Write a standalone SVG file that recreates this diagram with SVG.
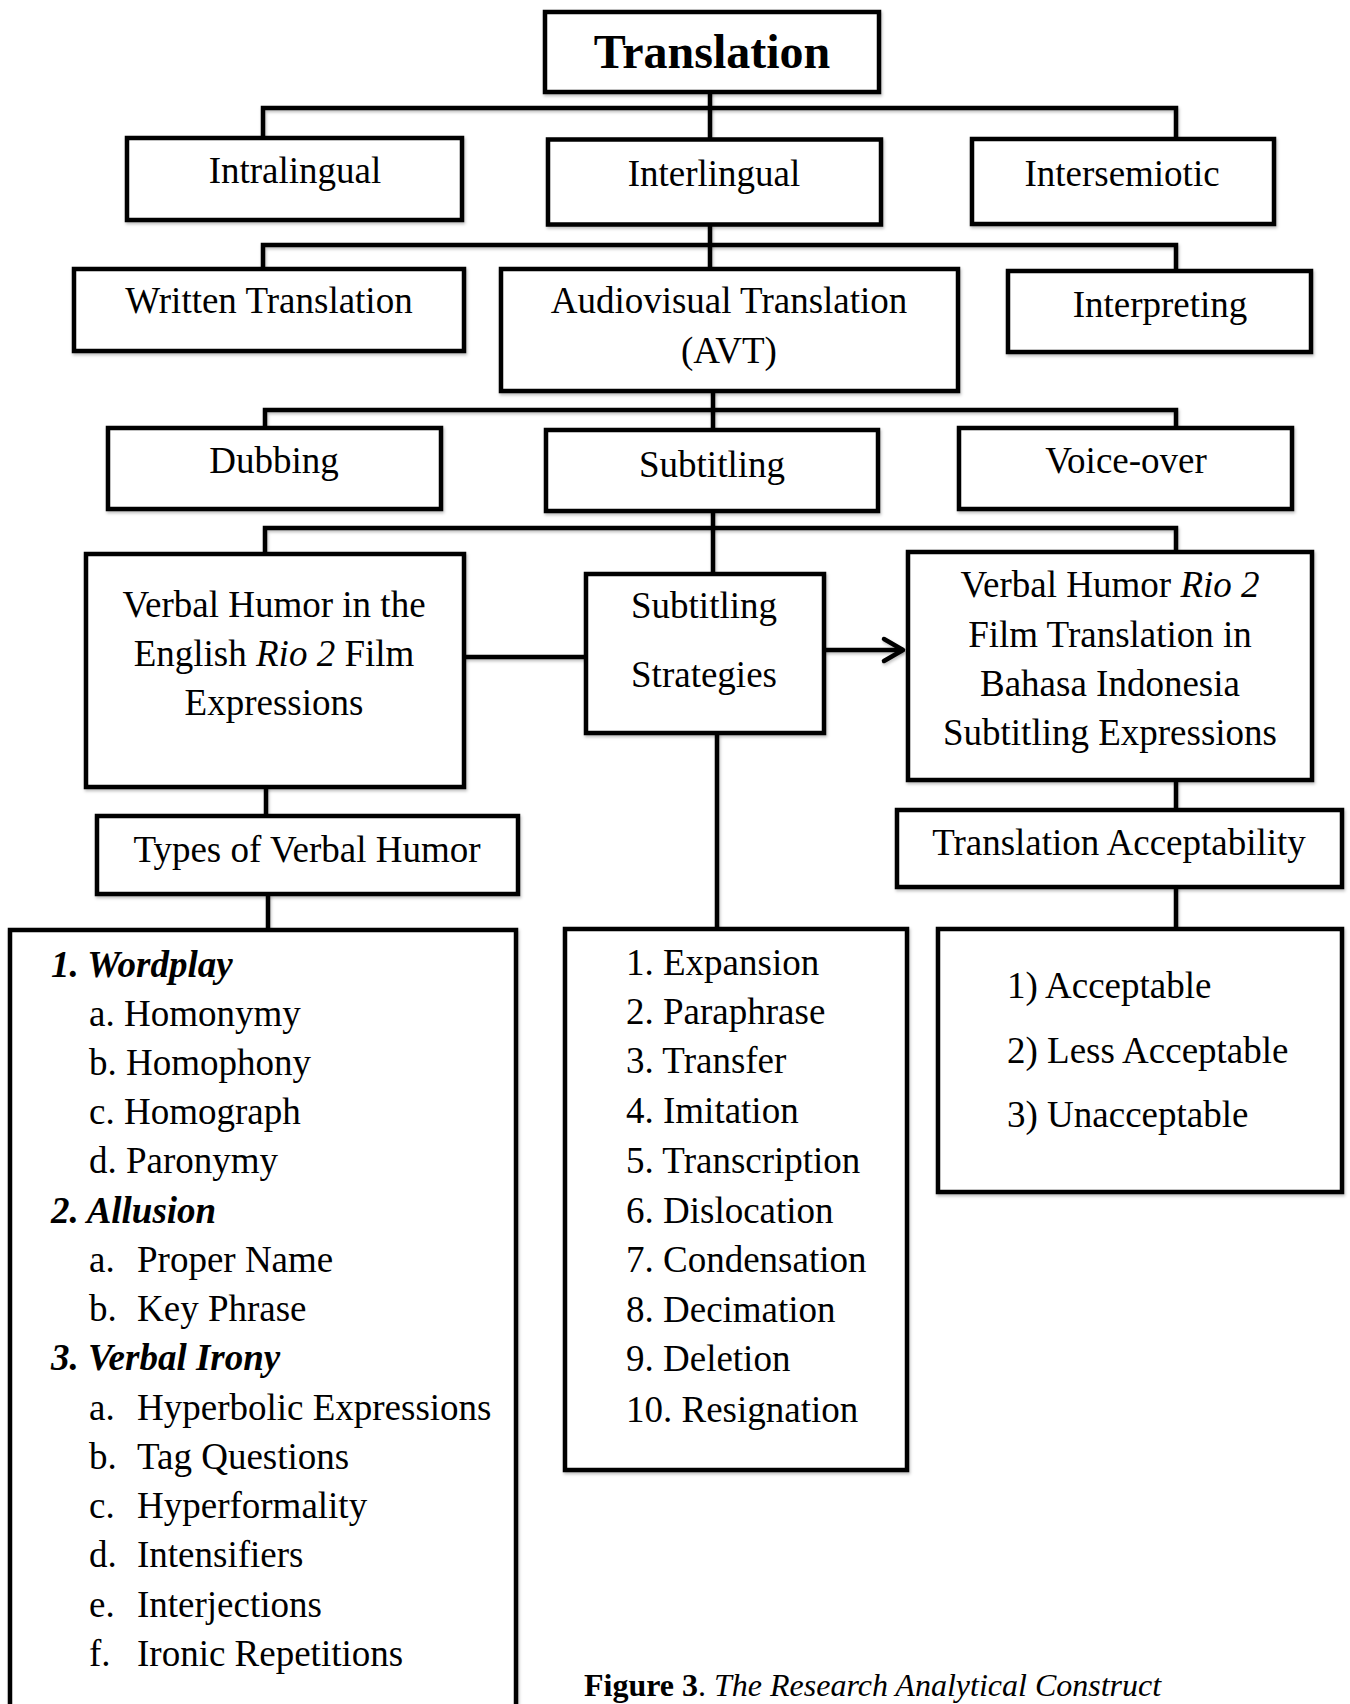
<svg xmlns="http://www.w3.org/2000/svg" width="1350" height="1704" viewBox="0 0 1350 1704">
<defs>
<filter id="sh" filterUnits="userSpaceOnUse" x="0" y="0" width="1350" height="1704">
<feDropShadow dx="1" dy="2" stdDeviation="1.5" flood-color="#000" flood-opacity="0.25"/>
</filter>
</defs>
<style>
.box{fill:#fff;stroke:#000;stroke-width:4.5;filter:url(#sh)}
.ln{fill:none;stroke:#000;stroke-width:4.5;filter:url(#sh)}
text{font-family:"Liberation Serif","Times New Roman",serif;font-size:37px;fill:#000}
.c{text-anchor:middle}
.it{font-style:italic}
.bi{font-style:italic;font-weight:bold}
.title{font-size:48px;font-weight:bold}
</style>
<rect width="1350" height="1704" fill="#fff"/>
<g id="connectors">
<path class="ln" d="M710,92 V139"/>
<path class="ln" d="M263,137 V108 H1176 V138"/>
<path class="ln" d="M710,224 V268"/>
<path class="ln" d="M263,268 V245 H1176 V270"/>
<path class="ln" d="M713,391 V429"/>
<path class="ln" d="M265,428 V410 H1176 V428"/>
<path class="ln" d="M713,511 V573"/>
<path class="ln" d="M265,553 V528 H1176 V551"/>
<path class="ln" d="M464,657 H586"/>
<path class="ln" d="M824,650 H903"/>
<path class="ln" d="M884,639 L903,650 L884,661" stroke-linecap="round" stroke-linejoin="round"/>
<path class="ln" d="M266,787 V816"/>
<path class="ln" d="M268,894 V930"/>
<path class="ln" d="M717,733 V929"/>
<path class="ln" d="M1176,780 V810"/>
<path class="ln" d="M1176,887 V929"/>
</g>
<g id="translation">
<rect class="box" x="545" y="12" width="334" height="80"/>
<text class="c title" x="712" y="68">Translation</text>
</g>
<g id="intralingual">
<rect class="box" x="127" y="138" width="335" height="82"/>
<text class="c" x="295" y="183">Intralingual</text>
</g>
<g id="interlingual">
<rect class="box" x="548" y="139.5" width="333" height="85"/>
<text class="c" x="714" y="186">Interlingual</text>
</g>
<g id="intersemiotic">
<rect class="box" x="972" y="139" width="302" height="85"/>
<text class="c" x="1122" y="186">Intersemiotic</text>
</g>
<g id="written">
<rect class="box" x="74" y="269" width="390" height="82"/>
<text class="c" x="269" y="313">Written Translation</text>
</g>
<g id="avt">
<rect class="box" x="501" y="269" width="457" height="122"/>
<text class="c" x="729" y="313">Audiovisual Translation</text>
<text class="c" x="729" y="363">(AVT)</text>
</g>
<g id="interpreting">
<rect class="box" x="1008" y="271" width="303" height="81"/>
<text class="c" x="1160" y="317">Interpreting</text>
</g>
<g id="dubbing">
<rect class="box" x="108" y="428" width="333" height="81"/>
<text class="c" x="274" y="473">Dubbing</text>
</g>
<g id="subtitling">
<rect class="box" x="546" y="430" width="332" height="81"/>
<text class="c" x="712" y="477">Subtitling</text>
</g>
<g id="voiceover">
<rect class="box" x="959" y="428" width="333" height="81"/>
<text class="c" x="1126" y="473">Voice-over</text>
</g>
<g id="verbal-humor-english">
<rect class="box" x="86" y="554" width="378" height="233"/>
<text class="c" x="274" y="617">Verbal Humor in the</text>
<text class="c" x="274" y="666">English <tspan class="it">Rio 2</tspan> Film</text>
<text class="c" x="274" y="715">Expressions</text>
</g>
<g id="subtitling-strategies">
<rect class="box" x="586" y="574" width="238" height="159"/>
<text class="c" x="704" y="618">Subtitling</text>
<text class="c" x="704" y="687">Strategies</text>
</g>
<g id="verbal-humor-indonesia">
<rect class="box" x="908" y="552" width="404" height="228"/>
<text class="c" x="1110" y="597">Verbal Humor <tspan class="it">Rio 2</tspan></text>
<text class="c" x="1110" y="647">Film Translation in</text>
<text class="c" x="1110" y="696">Bahasa Indonesia</text>
<text class="c" x="1110" y="745">Subtitling Expressions</text>
</g>
<g id="types-verbal-humor">
<rect class="box" x="97" y="816" width="421" height="78"/>
<text class="c" x="307" y="862">Types of Verbal Humor</text>
</g>
<g id="translation-acceptability">
<rect class="box" x="897" y="810" width="445" height="77"/>
<text class="c" x="1119" y="855">Translation Acceptability</text>
</g>
<g id="humor-types-list">
<rect class="box" x="10" y="930" width="506" height="820"/>
<text class="bi" x="51" y="977">1. Wordplay</text>
<text x="89" y="1026">a. Homonymy</text>
<text x="89" y="1075">b. Homophony</text>
<text x="89" y="1124">c. Homograph</text>
<text x="89" y="1173">d. Paronymy</text>
<text class="bi" x="51" y="1223">2. Allusion</text>
<text x="89" y="1272">a.</text><text x="137" y="1272">Proper Name</text>
<text x="89" y="1321">b.</text><text x="137" y="1321">Key Phrase</text>
<text class="bi" x="51" y="1370">3. Verbal Irony</text>
<text x="89" y="1420">a.</text><text x="137" y="1420">Hyperbolic Expressions</text>
<text x="89" y="1469">b.</text><text x="137" y="1469">Tag Questions</text>
<text x="89" y="1518">c.</text><text x="137" y="1518">Hyperformality</text>
<text x="89" y="1567">d.</text><text x="137" y="1567">Intensifiers</text>
<text x="89" y="1617">e.</text><text x="137" y="1617">Interjections</text>
<text x="89" y="1666">f.</text><text x="137" y="1666">Ironic Repetitions</text>
</g>
<g id="strategies-list">
<rect class="box" x="565" y="929" width="342" height="541"/>
<text x="626" y="975">1. Expansion</text>
<text x="626" y="1024">2. Paraphrase</text>
<text x="626" y="1073">3. Transfer</text>
<text x="626" y="1123">4. Imitation</text>
<text x="626" y="1173">5. Transcription</text>
<text x="626" y="1223">6. Dislocation</text>
<text x="626" y="1272">7. Condensation</text>
<text x="626" y="1322">8. Decimation</text>
<text x="626" y="1371">9. Deletion</text>
<text x="626" y="1422">10. Resignation</text>
</g>
<g id="acceptability-list">
<rect class="box" x="938" y="929" width="404" height="263"/>
<text x="1007" y="998">1) Acceptable</text>
<text x="1007" y="1063">2) Less Acceptable</text>
<text x="1007" y="1127">3) Unacceptable</text>
</g>
<text x="584" y="1696" style="font-size:32px"><tspan font-weight="bold">Figure 3</tspan>. <tspan class="it">The Research Analytical Construct</tspan></text>
</svg>
